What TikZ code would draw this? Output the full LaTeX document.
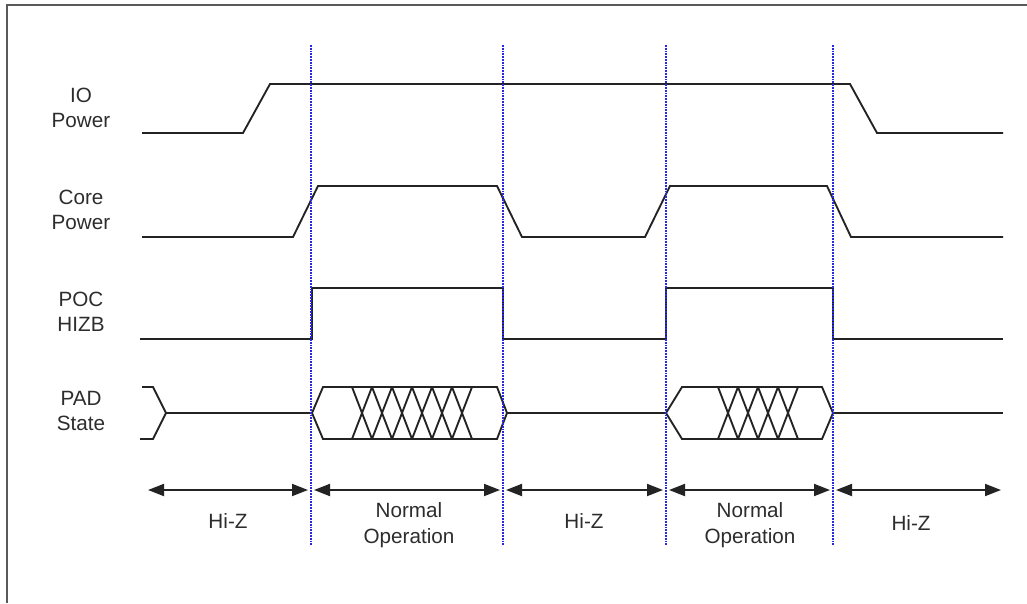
\documentclass[tikz,border=0pt]{standalone}
\usepackage{fontspec}
\setmainfont{Liberation Sans}
\usetikzlibrary{arrows.meta}
\definecolor{divblue}{RGB}{40,40,225}
\definecolor{txt}{RGB}{45,45,45}
\definecolor{wave}{RGB}{35,35,35}
\begin{document}
\begin{tikzpicture}[x=0.75pt,y=-0.75pt,
  wv/.style={draw=wave,line width=1.4pt,line join=miter},
  divider/.style={draw=divblue,line width=1.6pt,dash pattern=on 1.3pt off 0.8pt},
  span/.style={draw=wave,line width=1.4pt,{Triangle[length=12pt,width=9pt]}-{Triangle[length=12pt,width=9pt]}},
  lbl/.style={text=txt,font=\fontsize{15.5}{19}\selectfont,align=center,inner sep=0pt},
  frame/.style={draw=black!65,line width=1.6pt}]
\useasboundingbox (0,0) rectangle (1027,603);
% frame
\draw[frame] (7,603) -- (7,5) -- (1027,5);
% signal labels
\node[lbl] (lio) at (81,108) {IO\\Power};
\node[lbl] (lcore) at (81,210) {Core\\Power};
\node[lbl] (lpoc) at (81,312) {POC\\HIZB};
\node[lbl] (lpad) at (81,411) {PAD\\State};
% IO power
\draw[wv] (142,133) -- (243,133) -- (270,84) -- (850,84) -- (877,133) -- (1003,133);
% Core power
\draw[wv] (142,237) -- (293,237) -- (318,186) -- (497,186) -- (522,237) -- (645,237) -- (670,186) -- (827,186) -- (851,237) -- (1003,237);
% POC HIZB
\draw[wv] (140,339) -- (312,339) -- (312,288) -- (503,288) -- (503,339) -- (666,339) -- (666,288) -- (833,288) -- (833,339) -- (1003,339);
% PAD state
\draw[wv] (142,387) -- (153,387) -- (166,413) -- (153,439) -- (140,439);
\draw[wv] (166,413) -- (312,413);
\draw[wv] (312,413) -- (323,387) -- (497,387) -- (507,413) -- (497,439) -- (323,439) -- cycle;
\foreach \i in {0,...,5} {
  \draw[wv] ({352+20*\i},387) -- ({372+20*\i},439);
  \draw[wv] ({352+20*\i},439) -- ({372+20*\i},387);
}
\draw[wv] (507,413) -- (666,413);
\draw[wv] (666,413) -- (682,387) -- (822,387) -- (833,413) -- (822,439) -- (682,439) -- cycle;
\foreach \i in {0,...,3} {
  \draw[wv] ({718+20*\i},387) -- ({738+20*\i},439);
  \draw[wv] ({718+20*\i},439) -- ({738+20*\i},387);
}
\draw[wv] (833,413) -- (1003,413);
% dividers
\foreach \x/\n in {311/1,503/2,666/3,833/4} {
  \coordinate (t\n) at (\x,45);
  \coordinate (b\n) at (\x,545);
  \draw[divider] (t\n) -- (b\n);
}
% phase arrows
\coordinate (a0) at (148,490);
\coordinate (a1l) at (308,490);
\coordinate (a1r) at (314,490);
\coordinate (a2l) at (500,490);
\coordinate (a2r) at (506,490);
\coordinate (a3l) at (663,490);
\coordinate (a3r) at (669,490);
\coordinate (a4l) at (830,490);
\coordinate (a4r) at (836,490);
\coordinate (a5) at (1001,490);
\draw[span] (a0) -- (a1l);
\draw[span] (a1r) -- (a2l);
\draw[span] (a2r) -- (a3l);
\draw[span] (a3r) -- (a4l);
\draw[span] (a4r) -- (a5);
% phase labels
\node[lbl] (p1) at (228,521) {Hi-Z};
\node[lbl] (p2) at (409,525) {Normal\\Operation};
\node[lbl] (p3) at (584,521) {Hi-Z};
\node[lbl] (p4) at (750,525) {Normal\\Operation};
\node[lbl] (p5) at (911,523) {Hi-Z};
\end{tikzpicture}
\end{document}
